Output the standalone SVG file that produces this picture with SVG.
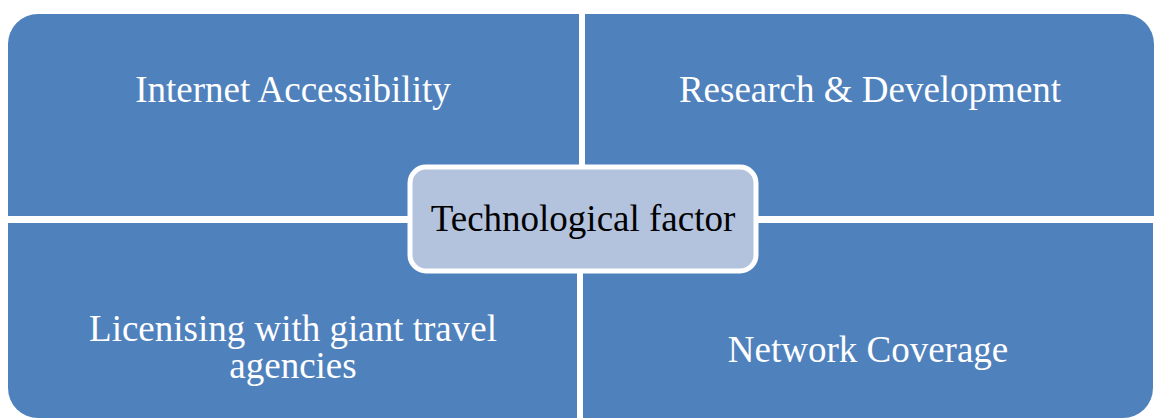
<svg xmlns="http://www.w3.org/2000/svg" width="1155" height="418" viewBox="0 0 1155 418">
  <style>
    .quad { fill: #4F81BD; }
    .lbl { font-family: "Liberation Serif", "Times New Roman", serif; font-size: 37px; fill: #FFFFFF; text-anchor: middle; }
    .hub { fill: #B3C3DE; stroke: #FFFFFF; stroke-width: 5; }
    .hub-lbl { font-family: "Liberation Serif", "Times New Roman", serif; font-size: 37px; fill: #000000; text-anchor: middle; }
  </style>
  <rect width="1155" height="418" fill="#FFFFFF"/>

  <g id="internet-accessibility">
    <path class="quad" d="M8,216 V44 A30,30 0 0 1 38,14 H579 V216 Z"/>
    <text class="lbl" x="293" y="102">Internet Accessibility</text>
  </g>

  <g id="research-development">
    <path class="quad" d="M585,14 H1124 A30,30 0 0 1 1154,44 V216 H585 Z"/>
    <text class="lbl" x="870" y="102">Research &amp; Development</text>
  </g>

  <g id="licensing">
    <path class="quad" d="M8,223 H577 V418 H38 A30,30 0 0 1 8,388 Z"/>
    <text class="lbl" x="293" y="341">Licenising with giant travel</text>
    <text class="lbl" x="293" y="378">agencies</text>
  </g>

  <g id="network-coverage">
    <path class="quad" d="M583,223 H1153 V388 A30,30 0 0 1 1123,418 H583 Z"/>
    <text class="lbl" x="868" y="362">Network Coverage</text>
  </g>

  <g id="connectors"/>

  <g id="technological-factor">
    <rect class="hub" x="410" y="167" width="346" height="104" rx="16" ry="16"/>
    <text class="hub-lbl" x="583" y="231">Technological factor</text>
  </g>
</svg>
